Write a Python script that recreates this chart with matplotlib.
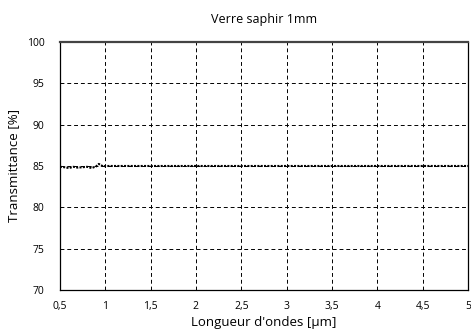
import numpy as np
import matplotlib
matplotlib.use('Agg')
import matplotlib.pyplot as plt

plt.rcParams['font.family'] = ['Open Sans', 'DejaVu Sans']

wavelength = [0.50, 0.55, 0.60, 0.65, 0.70, 0.75, 0.80, 0.85, 0.90, 0.93, 0.95, 0.98,
              1.00, 1.25, 1.50, 1.75, 2.00, 2.25, 2.50, 2.75, 3.00, 3.25, 3.50,
              3.75, 4.00, 4.25, 4.50, 4.75, 5.00]
transmittance = [84.9, 84.85, 84.75, 84.9, 84.8, 84.85, 84.9, 84.75, 84.95, 85.25, 85.1, 84.95,
                 85.0, 85.0, 85.0, 85.0, 85.0, 85.0, 85.0, 85.0, 85.0, 85.0, 85.0,
                 85.0, 85.0, 85.0, 85.0, 85.0, 85.0]

x_ticks = [0.5, 1, 1.5, 2, 2.5, 3, 3.5, 4, 4.5, 5]
x_labels = ['0,5', '1', '1,5', '2', '2,5', '3', '3,5', '4', '4,5', '5']
y_ticks = [70, 75, 80, 85, 90, 95, 100]

fig = plt.figure(figsize=(4.71, 3.29), dpi=100)
ax = fig.add_axes([0.127, 0.119, 0.867, 0.753])

ax.plot(wavelength, transmittance, color='black', linestyle=(0, (1, 0.6)), linewidth=1.5)

ax.set_xlim(0.5, 5)
ax.set_ylim(70, 100)
ax.set_xticks(x_ticks)
ax.set_xticklabels(x_labels)
ax.set_yticks(y_ticks)
ax.tick_params(length=0, labelsize=7.5)
ax.tick_params(axis='x', pad=8)
ax.tick_params(axis='y', pad=11)
ax.grid(True, color='black', linestyle=(0, (4, 3)), linewidth=0.7)
for s in ax.spines.values():
    s.set_linewidth(0.9)
ax.spines['top'].set_linewidth(1.6)
ax.spines['top'].set_color('#444444')

ax.set_title('Verre saphir 1mm', fontsize=9, pad=14)
ax.set_xlabel("Longueur d'ondes [µm]", fontsize=9.5, labelpad=3)
ax.set_ylabel('Transmittance [%]', fontsize=9.5, labelpad=5)

fig.savefig('out.png', dpi=100)
